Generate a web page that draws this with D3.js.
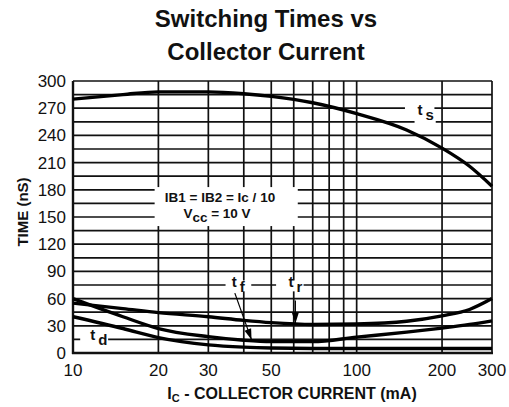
<!DOCTYPE html>
<html>
<head>
<meta charset="utf-8">
<script src="https://cdn.jsdelivr.net/npm/d3@7"></script>
<style>
  body { margin: 0; background: #fff; }
  svg text { font-family: Arial, "Liberation Sans", sans-serif; fill: #111; }
</style>
</head>
<body>
<svg id="chart" width="509" height="407"></svg>
<script>
// ========= Data =========
const current = [10, 15, 20, 30, 40, 50, 70, 100, 150, 200, 250, 300]; // mA
const tS = [280, 285, 288, 288, 286, 283, 276, 264, 246, 226, 206, 184];
const tR = [55, 49, 44.5, 40, 36, 33.5, 31.5, 32, 35, 41, 48, 60];
const tF = [60, 40, 27, 18, 14, 12.5, 12.5, 17.5, 23, 27.5, 31.5, 35.5];
const tD = [40, 27, 17, 9, 6.5, 5.5, 5, 5, 5, 5, 5, 5];

const xGrid = [10, 20, 30, 40, 50, 60, 70, 80, 90, 100, 200, 300];
const xTickLabels = [10, 20, 30, 50, 100, 200, 300];
const yGrid = d3.range(0, 301, 15);
const yTickLabels = d3.range(0, 301, 30);

const svg = d3.select('#chart');

// ========= Scales =========
const x = d3.scaleLog().domain([10, 300]).range([73, 492]);
const y = d3.scaleLinear().domain([0, 300]).range([353, 81]);

// ========= Title =========
const title = svg.append('g')
  .attr('text-anchor', 'middle')
  .style('font-weight', 'bold')
  .style('font-size', '24px');
title.append('text').attr('x', 266).attr('y', 27).text('Switching Times vs');
title.append('text').attr('x', 266).attr('y', 60).text('Collector Current');

// ========= Grid =========
const grid = svg.append('g').attr('stroke', '#111').attr('stroke-width', 1.7);

grid.selectAll('.hline')
  .data(yGrid)
  .enter()
  .append('line')
  .attr('class', 'hline')
  .attr('x1', x(10)).attr('x2', x(300))
  .attr('y1', d => y(d)).attr('y2', d => y(d));

grid.selectAll('.vline')
  .data(xGrid)
  .enter()
  .append('line')
  .attr('class', 'vline')
  .attr('y1', y(0)).attr('y2', y(300))
  .attr('x1', d => x(d)).attr('x2', d => x(d));

// axis frame a bit heavier
svg.append('line')
  .attr('x1', x(10)).attr('x2', x(10)).attr('y1', y(0) + 1).attr('y2', y(300))
  .attr('stroke', '#111').attr('stroke-width', 2.4);
svg.append('line')
  .attr('x1', x(10) - 1).attr('x2', x(300) + 1).attr('y1', y(0)).attr('y2', y(0))
  .attr('stroke', '#111').attr('stroke-width', 2.6);

// ========= Label backgrounds (blank the grid behind text) =========
const bg = svg.append('g').attr('fill', '#fff');
function blank(x0, x1, y0, y1) {
  bg.append('rect')
    .attr('x', x(x0)).attr('y', y(y1))
    .attr('width', x(x1) - x(x0)).attr('height', y(y0) - y(y1));
}
blank(19.4, 62, 140, 183);
blank(148, 188, 262, 274);
blank(160, 190, 248, 262);
blank(10.6, 13.3, 9, 20);
blank(34.5, 42.5, 68, 80);
blank(52, 65, 68, 80);

// ========= Curves =========
const line = d3.line()
  .x((d, i) => x(current[i]))
  .y(d => y(d))
  .curve(d3.curveMonotoneX);

svg.selectAll('.curve')
  .data([tS, tR, tF, tD])
  .enter()
  .append('path')
  .attr('class', 'curve')
  .attr('d', line)
  .attr('fill', 'none')
  .attr('stroke', '#000')
  .attr('stroke-width', 3.4)
  .attr('stroke-linejoin', 'round');

// ========= Ticks =========
svg.append('g')
  .attr('text-anchor', 'end')
  .style('font-size', '17px')
  .selectAll('text')
  .data(yTickLabels)
  .enter()
  .append('text')
  .attr('x', x(10) - 7)
  .attr('y', d => y(d) + 6)
  .text(d => d);

svg.append('g')
  .attr('text-anchor', 'middle')
  .style('font-size', '17px')
  .selectAll('text')
  .data(xTickLabels)
  .enter()
  .append('text')
  .attr('x', d => x(d))
  .attr('y', y(0) + 23)
  .text(d => d);

// ========= Axis titles =========
const xl = svg.append('text')
  .attr('x', 292).attr('y', 399)
  .attr('text-anchor', 'middle')
  .style('font-weight', 'bold')
  .style('font-size', '16px');
xl.append('tspan').text('I');
xl.append('tspan').attr('dy', 3).style('font-size', '11px').text('C');
xl.append('tspan').attr('dy', -3).text(' - COLLECTOR CURRENT  (mA)');

svg.append('text')
  .attr('transform', 'translate(28,212) rotate(-90)')
  .attr('text-anchor', 'middle')
  .style('font-weight', 'bold')
  .style('font-size', '15px')
  .text('TIME (nS)');

// ========= Annotations =========
const note = svg.append('g')
  .attr('text-anchor', 'middle')
  .style('font-weight', 'bold')
  .style('font-size', '13.5px');
note.append('text').attr('x', 220).attr('y', 202).text('IB1 = IB2 = Ic / 10');
const vcc = note.append('text').attr('x', 217).attr('y', 218);
vcc.append('tspan').text('V');
vcc.append('tspan').attr('dy', 4).text('cc');
vcc.append('tspan').attr('dy', -4).text(' = 10 V');

function curveLabel(xv, yv, main, sub) {
  const t = svg.append('text')
    .attr('x', x(xv)).attr('y', y(yv))
    .style('font-weight', 'bold')
    .style('font-size', '15px');
  t.append('tspan').text(main);
  t.append('tspan').attr('dx', 3).attr('dy', 5).style('font-size', '15px').text(sub);
}
curveLabel(164, 263, 't', 's');
curveLabel(11.5, 14, 't', 'd');
curveLabel(36.3, 72.5, 't', 'f');
curveLabel(57.5, 72.5, 't', 'r');

// ========= Arrows =========
const arrows = [
  {from: [37.2, 66], to: [42.6, 14.5]},
  {from: [60.8, 58], to: [60.8, 32.5]}
];
const ag = svg.selectAll('.arrow')
  .data(arrows)
  .enter()
  .append('g')
  .attr('class', 'arrow');
ag.append('line')
  .attr('x1', d => x(d.from[0])).attr('y1', d => y(d.from[1]))
  .attr('x2', d => x(d.to[0])).attr('y2', d => y(d.to[1]))
  .attr('stroke', '#000').attr('stroke-width', 1.2);
ag.append('path')
  .attr('d', 'M0,0L-11,-3.5L-11,3.5Z')
  .attr('fill', '#000')
  .attr('transform', d => {
    const x2 = x(d.to[0]), y2 = y(d.to[1]);
    const a = Math.atan2(y2 - y(d.from[1]), x2 - x(d.from[0])) * 180 / Math.PI;
    return `translate(${x2},${y2}) rotate(${a})`;
  });
</script>
</body>
</html>
